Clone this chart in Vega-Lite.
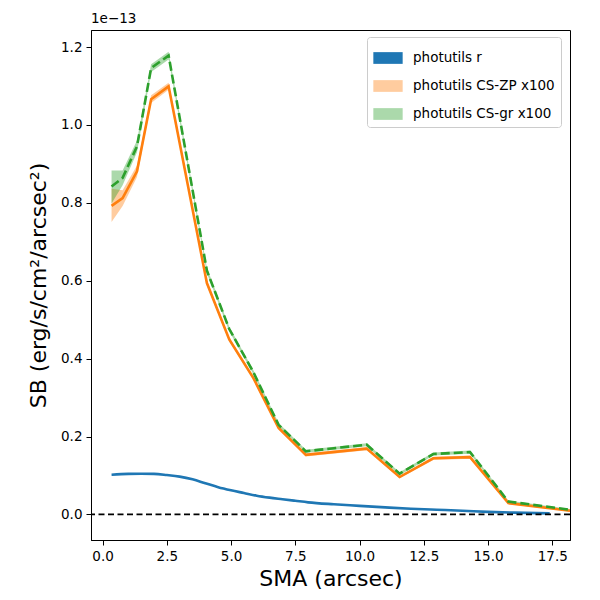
{
  "$schema": "https://vega.github.io/schema/vega-lite/v6.json",
  "width": 479,
  "height": 510,
  "autosize": {"type": "none"},
  "padding": {"left": 91, "top": 30, "right": 30, "bottom": 60},
  "background": "white",
  "title": {"text": "1e\u221213", "anchor": "start", "frame": "group", "fontSize": 13.5, "fontWeight": "normal", "font": "DejaVu Sans", "color": "black", "offset": 5},
  "config": {
    "view": {"stroke": "black", "strokeWidth": 1},
    "font": "DejaVu Sans",
    "axis": {"grid": false, "domainColor": "black", "tickColor": "black", "tickSize": 5, "labelFont": "DejaVu Sans", "labelFontSize": 13.5, "labelColor": "black", "titleFont": "DejaVu Sans", "titleFontSize": 22, "titleFontWeight": "normal", "titleColor": "black", "labelPadding": 4}
  },
  "datasets": {
    "bands": [
      {"series": "photutils CS-ZP x100", "x": 0.35, "y": 0.792, "lo": 0.751, "hi": 0.836},
      {"series": "photutils CS-ZP x100", "x": 0.78, "y": 0.812, "lo": 0.792, "hi": 0.832},
      {"series": "photutils CS-ZP x100", "x": 1.34, "y": 0.881, "lo": 0.866, "hi": 0.896},
      {"series": "photutils CS-ZP x100", "x": 1.89, "y": 1.066, "lo": 1.056, "hi": 1.076},
      {"series": "photutils CS-ZP x100", "x": 2.57, "y": 1.099, "lo": 1.09, "hi": 1.108},
      {"series": "photutils CS-ZP x100", "x": 4.06, "y": 0.594, "lo": 0.588, "hi": 0.6},
      {"series": "photutils CS-ZP x100", "x": 4.93, "y": 0.449, "lo": 0.444, "hi": 0.454},
      {"series": "photutils CS-ZP x100", "x": 5.87, "y": 0.35, "lo": 0.345, "hi": 0.355},
      {"series": "photutils CS-ZP x100", "x": 6.85, "y": 0.222, "lo": 0.218, "hi": 0.226},
      {"series": "photutils CS-ZP x100", "x": 7.91, "y": 0.153, "lo": 0.149, "hi": 0.157},
      {"series": "photutils CS-ZP x100", "x": 10.28, "y": 0.169, "lo": 0.165, "hi": 0.173},
      {"series": "photutils CS-ZP x100", "x": 11.56, "y": 0.096, "lo": 0.093, "hi": 0.099},
      {"series": "photutils CS-ZP x100", "x": 12.87, "y": 0.144, "lo": 0.14, "hi": 0.148},
      {"series": "photutils CS-ZP x100", "x": 14.3, "y": 0.147, "lo": 0.143, "hi": 0.151},
      {"series": "photutils CS-ZP x100", "x": 15.79, "y": 0.029, "lo": 0.027, "hi": 0.031},
      {"series": "photutils CS-ZP x100", "x": 18.19, "y": 0.0095, "lo": 0.0075, "hi": 0.0115},
      {"series": "photutils CS-gr x100", "x": 0.35, "y": 0.842, "lo": 0.798, "hi": 0.883},
      {"series": "photutils CS-gr x100", "x": 0.78, "y": 0.864, "lo": 0.845, "hi": 0.883},
      {"series": "photutils CS-gr x100", "x": 1.34, "y": 0.945, "lo": 0.93, "hi": 0.96},
      {"series": "photutils CS-gr x100", "x": 1.89, "y": 1.146, "lo": 1.136, "hi": 1.156},
      {"series": "photutils CS-gr x100", "x": 2.57, "y": 1.178, "lo": 1.168, "hi": 1.188},
      {"series": "photutils CS-gr x100", "x": 4.06, "y": 0.626, "lo": 0.619, "hi": 0.633},
      {"series": "photutils CS-gr x100", "x": 4.93, "y": 0.476, "lo": 0.47, "hi": 0.482},
      {"series": "photutils CS-gr x100", "x": 5.87, "y": 0.365, "lo": 0.36, "hi": 0.37},
      {"series": "photutils CS-gr x100", "x": 6.85, "y": 0.23, "lo": 0.225, "hi": 0.235},
      {"series": "photutils CS-gr x100", "x": 7.91, "y": 0.162, "lo": 0.158, "hi": 0.166},
      {"series": "photutils CS-gr x100", "x": 10.28, "y": 0.179, "lo": 0.175, "hi": 0.183},
      {"series": "photutils CS-gr x100", "x": 11.56, "y": 0.1045, "lo": 0.1005, "hi": 0.1085},
      {"series": "photutils CS-gr x100", "x": 12.87, "y": 0.155, "lo": 0.151, "hi": 0.159},
      {"series": "photutils CS-gr x100", "x": 14.3, "y": 0.16, "lo": 0.156, "hi": 0.164},
      {"series": "photutils CS-gr x100", "x": 15.79, "y": 0.033, "lo": 0.03, "hi": 0.036},
      {"series": "photutils CS-gr x100", "x": 18.19, "y": 0.012, "lo": 0.01, "hi": 0.014}
    ],
    "blue": [
      {"series": "photutils r", "x": 0.35, "y": 0.102},
      {"series": "photutils r", "x": 1.0, "y": 0.104},
      {"series": "photutils r", "x": 1.5, "y": 0.1045},
      {"series": "photutils r", "x": 2.0, "y": 0.104},
      {"series": "photutils r", "x": 2.5, "y": 0.101},
      {"series": "photutils r", "x": 3.0, "y": 0.097},
      {"series": "photutils r", "x": 3.5, "y": 0.09},
      {"series": "photutils r", "x": 4.0, "y": 0.08},
      {"series": "photutils r", "x": 4.5, "y": 0.07},
      {"series": "photutils r", "x": 5.0, "y": 0.062},
      {"series": "photutils r", "x": 5.5, "y": 0.055},
      {"series": "photutils r", "x": 6.0, "y": 0.048},
      {"series": "photutils r", "x": 6.5, "y": 0.043},
      {"series": "photutils r", "x": 7.0, "y": 0.039},
      {"series": "photutils r", "x": 7.5, "y": 0.035},
      {"series": "photutils r", "x": 8.0, "y": 0.031},
      {"series": "photutils r", "x": 9.0, "y": 0.026},
      {"series": "photutils r", "x": 10.0, "y": 0.022},
      {"series": "photutils r", "x": 11.0, "y": 0.018},
      {"series": "photutils r", "x": 12.0, "y": 0.0145},
      {"series": "photutils r", "x": 13.0, "y": 0.012},
      {"series": "photutils r", "x": 14.0, "y": 0.0095},
      {"series": "photutils r", "x": 15.0, "y": 0.0065},
      {"series": "photutils r", "x": 16.0, "y": 0.0045},
      {"series": "photutils r", "x": 17.4, "y": 0.0026}
    ]
  },
  "layer": [
    {
      "data": {"name": "bands"},
      "mark": {"type": "area", "fillOpacity": 0.4, "clip": true},
      "encoding": {
        "x": {"field": "x", "type": "quantitative", "scale": {"domain": [-0.45, 18.19], "nice": false, "zero": false}, "axis": {"values": [0, 2.5, 5, 7.5, 10, 12.5, 15, 17.5], "format": ".1f", "title": "SMA (arcsec)", "titlePadding": 6}},
        "y": {"field": "lo", "type": "quantitative", "scale": {"domain": [-0.0657, 1.2437], "nice": false, "zero": false}, "axis": {"values": [0, 0.2, 0.4, 0.6, 0.8, 1.0, 1.2], "format": ".1f", "title": "SB (erg/s/cm\u00b2/arcsec\u00b2)", "titlePadding": 10}},
        "y2": {"field": "hi"},
        "fill": {"field": "series", "type": "nominal", "scale": {"domain": ["photutils r", "photutils CS-ZP x100", "photutils CS-gr x100"], "range": ["#1f77b4", "#ff7f0e", "#2ca02c"]},
          "legend": {"title": null, "orient": "none", "legendX": 276, "legendY": 7, "symbolType": "M-1,-0.4H1V0.4H-1Z", "symbolSize": 860, "symbolStrokeWidth": 0, "labelFont": "DejaVu Sans", "labelFontSize": 13.5, "labelColor": "black", "labelOffset": 10, "rowPadding": 6, "padding": 6, "fillColor": "rgba(255,255,255,0.8)", "strokeColor": "#cccccc", "cornerRadius": 3,
            "encode": {"symbols": {"update": {"fillOpacity": {"signal": "datum.value === 'photutils r' ? 1 : 0.4"}, "opacity": {"value": 1}}}}}}
      }
    },
    {
      "data": {"name": "blue"},
      "mark": {"type": "line", "color": "#1f77b4", "strokeWidth": 2.6, "interpolate": "monotone", "clip": true},
      "encoding": {"x": {"field": "x", "type": "quantitative"}, "y": {"field": "y", "type": "quantitative"}}
    },
    {
      "data": {"name": "bands"},
      "transform": [{"filter": "datum.series === 'photutils CS-ZP x100'"}],
      "mark": {"type": "line", "color": "#ff7f0e", "strokeWidth": 2.6, "clip": true},
      "encoding": {"x": {"field": "x", "type": "quantitative"}, "y": {"field": "y", "type": "quantitative"}}
    },
    {
      "data": {"name": "bands"},
      "transform": [{"filter": "datum.series === 'photutils CS-gr x100'"}],
      "mark": {"type": "line", "color": "#2ca02c", "strokeWidth": 2.6, "strokeDash": [9, 4], "clip": true},
      "encoding": {"x": {"field": "x", "type": "quantitative"}, "y": {"field": "y", "type": "quantitative"}}
    },
    {
      "data": {"values": [{"z": 0}]},
      "mark": {"type": "rule", "color": "black", "strokeWidth": 1.6, "strokeDash": [6, 3.5]},
      "encoding": {"y": {"field": "z", "type": "quantitative"}}
    }
  ]
}
